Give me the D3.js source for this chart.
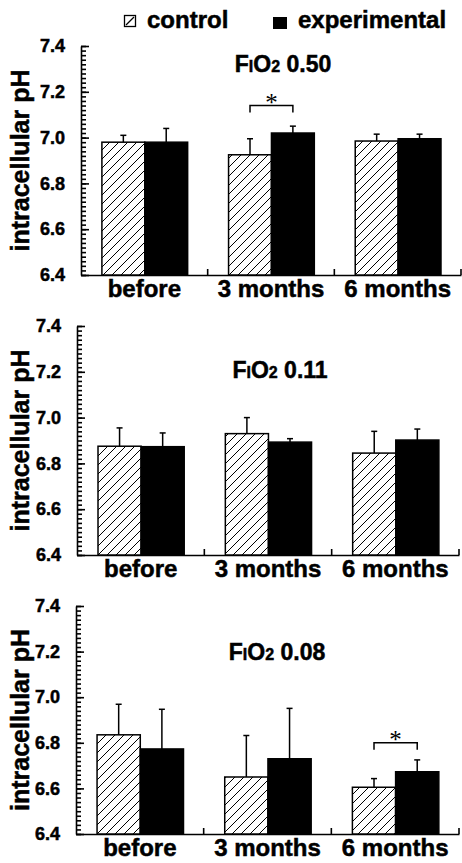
<!DOCTYPE html>
<meta charset="utf-8">
<style>
body { margin: 0; background: #fff; }
svg { font-family: "Liberation Sans", Arial, Helvetica, sans-serif; }
.axis path, .axis line { stroke: #000; stroke-width: 1.6; }
.axis text { font-weight: bold; fill: #000; }
.heavy { stroke: #000; stroke-width: 0.5; }
.bar { stroke: #000; stroke-width: 1.5; }
.err { stroke: #000; stroke-width: 1.5; fill: none; }
</style>
<svg width="462" height="863"></svg>
<script src="https://d3js.org/d3.v7.min.js"></script>
<script>

var categories = ["before", "3 months", "6 months"];
var series = ["control", "experimental"];
var fioLevels = ["0.50", "0.11", "0.08"];
var yTicks = [6.4, 6.6, 6.8, 7.0, 7.2, 7.4];

// mean and error (upper SD) per panel
var ctl050 = [6.98, 6.925, 6.985],  ctl050Err = [0.03, 0.07, 0.03];
var exp050 = [6.98, 7.02, 6.995],   exp050Err = [0.06, 0.03, 0.02];
var ctl011 = [6.875, 6.93, 6.845],  ctl011Err = [0.08, 0.07, 0.095];
var exp011 = [6.873, 6.893, 6.902], exp011Err = [0.06, 0.015, 0.048];
var ctl008 = [6.835, 6.65, 6.605],  ctl008Err = [0.134, 0.182, 0.038];
var exp008 = [6.773, 6.73, 6.673],  exp008Err = [0.174, 0.221, 0.052];

// significant pairs: [category, bracket height]
var sig050 = [["3 months", 7.14]];
var sig011 = [];
var sig008 = [["6 months", 6.80]];

var panelData = [
  {fio: fioLevels[0], ctl: ctl050, ctlErr: ctl050Err, exp: exp050, expErr: exp050Err, sig: sig050},
  {fio: fioLevels[1], ctl: ctl011, ctlErr: ctl011Err, exp: exp011, expErr: exp011Err, sig: sig011},
  {fio: fioLevels[2], ctl: ctl008, ctlErr: ctl008Err, exp: exp008, expErr: exp008Err, sig: sig008}
];

// panel placement on the page
var layout = [
  {left: 81, right: 461, top: 46,  bottom: 275, titleY: 72,  titleX: 283},
  {left: 77, right: 459, top: 326, bottom: 555, titleY: 378, titleX: 280},
  {left: 76, right: 459, top: 606, bottom: 834, titleY: 660, titleX: 277}
];

var svg = d3.select("svg");

var defs = svg.append("defs");
var pat = defs.append("pattern")
    .attr("id", "hatch")
    .attr("patternUnits", "userSpaceOnUse")
    .attr("width", 9).attr("height", 9);
pat.append("rect").attr("width", 9).attr("height", 9).attr("fill", "#fff");
pat.append("path")
    .attr("d", "M-1,10 L10,-1 M-2,2 L2,-2 M7,11 L11,7")
    .attr("stroke", "#000").attr("stroke-width", 1);

// legend
var leg = svg.append("g");
leg.append("rect").attr("x", 124.5).attr("y", 15.5).attr("width", 11).attr("height", 11)
    .attr("fill", "#fff").attr("stroke", "#000").attr("stroke-width", 1.3);
leg.append("line").attr("x1", 126).attr("y1", 25).attr("x2", 134).attr("y2", 17)
    .attr("stroke", "#000").attr("stroke-width", 1.3);
leg.append("text").attr("class", "heavy").attr("x", 147).attr("y", 28).attr("font-size", 24).attr("font-weight", "bold")
    .text(series[0]);
leg.append("rect").attr("x", 273).attr("y", 17).attr("width", 14).attr("height", 12).attr("fill", "#000");
leg.append("text").attr("class", "heavy").attr("x", 298).attr("y", 28).attr("font-size", 24).attr("font-weight", "bold")
    .text(series[1]);

panelData.forEach(function(d, i) {
  var L = layout[i];
  var width = L.right - L.left;
  var g = svg.append("g").attr("transform", "translate(" + L.left + ",0)");

  var y = d3.scaleLinear().domain([6.4, 7.4]).range([L.bottom, L.top]);
  var x0 = d3.scaleBand().domain(categories).range([0, width]);
  var bw = x0.bandwidth();
  var x1 = d3.scaleBand().domain(series).range([bw * 0.165, bw * 0.842]);

  // minor ticks
  g.append("g").attr("class", "axis")
      .call(d3.axisLeft(y).tickValues(d3.range(6.4, 7.4001, 0.02)).tickSizeInner(-5).tickSizeOuter(0).tickFormat(""))
      .call(function(a) { a.select(".domain").remove(); a.selectAll("line").attr("stroke-width", 1.2); });

  g.append("g").attr("class", "axis")
      .call(d3.axisLeft(y).tickValues(yTicks).tickSizeInner(-8).tickSizeOuter(0).tickPadding(16)
        .tickFormat(d3.format(".1f")))
      .call(function(a) { a.selectAll("text").attr("font-size", 18).attr("class", "heavy"); });

  var xa = g.append("g").attr("class", "axis")
      .attr("transform", "translate(0," + L.bottom + ")")
      .call(d3.axisBottom(x0).tickSize(0).tickPadding(5));
  xa.selectAll("text").attr("font-size", 24).attr("class", "heavy");
  xa.selectAll(".bound").data(categories).enter().append("line")
      .attr("x1", function(c) { return x0(c) + x0.step(); })
      .attr("x2", function(c) { return x0(c) + x0.step(); })
      .attr("y1", 0).attr("y2", -6);

  // y label
  svg.append("text").attr("class", "heavy")
      .attr("transform", "translate(29," + ((L.top + L.bottom) / 2) + ") rotate(-90)")
      .attr("text-anchor", "middle")
      .attr("font-size", 25).attr("font-weight", "bold")
      .text("intracellular pH");

  // title
  var t = svg.append("text").attr("class", "heavy").attr("x", L.titleX).attr("y", L.titleY)
      .attr("text-anchor", "middle").attr("font-weight", "bold").attr("font-size", 23);
  t.append("tspan").text("F");
  t.append("tspan").attr("font-size", 16).text("I");
  t.append("tspan").text("O");
  t.append("tspan").attr("font-size", 16).text("2");
  t.append("tspan").text(" " + d.fio);

  var rows = [];
  categories.forEach(function(c, k) {
    rows.push({cat: c, s: series[0], v: d.ctl[k], e: d.ctlErr[k]});
    rows.push({cat: c, s: series[1], v: d.exp[k], e: d.expErr[k]});
  });

  // error bars under the bars
  var eg = g.append("g");
  rows.forEach(function(r) {
    var cx = x0(r.cat) + x1(r.s) + x1.bandwidth() / 2;
    eg.append("line").attr("class", "err")
        .attr("x1", cx).attr("x2", cx).attr("y1", y(r.v)).attr("y2", y(r.v + r.e));
    eg.append("line").attr("class", "err")
        .attr("x1", cx - 3).attr("x2", cx + 3).attr("y1", y(r.v + r.e)).attr("y2", y(r.v + r.e));
  });

  g.append("g").selectAll("rect")
      .data(rows)
      .enter().append("rect")
      .attr("class", "bar")
      .attr("x", function(r) { return x0(r.cat) + x1(r.s); })
      .attr("width", x1.bandwidth())
      .attr("y", function(r) { return y(r.v); })
      .attr("height", function(r) { return y(6.4) - y(r.v); })
      .attr("fill", function(r) { return r.s === "control" ? "url(#hatch)" : "#000"; });

  // significance brackets
  d.sig.forEach(function(s) {
    var xa1 = x0(s[0]) + x1(series[0]) + x1.bandwidth() / 2;
    var xa2 = x0(s[0]) + x1(series[1]) + x1.bandwidth() / 2;
    var by = y(s[1]);
    g.append("path").attr("class", "err").attr("stroke-width", 1.2)
        .attr("d", "M" + xa1 + "," + (by + 7) + "V" + by + "H" + xa2 + "V" + (by + 7));
    g.append("text").attr("x", (xa1 + xa2) / 2).attr("y", by + 5)
        .attr("text-anchor", "middle").attr("font-size", 25)
        .attr("font-family", "'Liberation Serif', serif")
        .text("*");
  });
});

</script>
